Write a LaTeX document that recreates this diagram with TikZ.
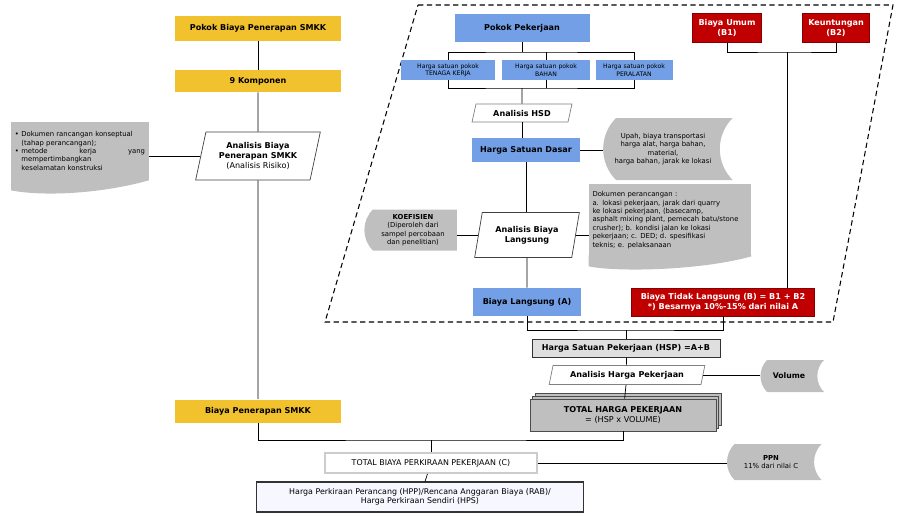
\documentclass[tikz,border=0pt]{standalone}
\usepackage{fontspec}
\setmainfont{DejaVu Sans}
\usetikzlibrary{shapes.geometric, shapes.misc, shadows}

\definecolor{smkkyellow}{HTML}{F2C12E}
\definecolor{hspblue}{HTML}{729FE6}
\definecolor{costred}{HTML}{C00000}
\definecolor{notegray}{HTML}{BFBFBF}

% wavy foot of a document note
\newcommand{\docwave}[1]{%
  \fill[notegray] ([yshift=0.6pt]#1.south west) -- ([yshift=-2mm]#1.south west)
    .. controls +(30,6) and +(-50,14) .. (#1.south east) -- ([yshift=0.6pt]#1.south east) -- cycle;}

\tikzset{
  box/.style={align=center, inner sep=1pt, font=\fontsize{4.6}{5.5}\selectfont\bfseries},
  lightfont/.style={font=\fontsize{4.5}{5.4}\selectfont},
  yellowbox/.style={box, fill=smkkyellow},
  bluebox/.style={box, fill=hspblue},
  smallblue/.style={bluebox, minimum height=4mm, font=\fontsize{3.5}{4.2}\selectfont},
  redbox/.style={box, fill=costred, text=white, draw=costred!70!black},
  iobox/.style={box, trapezium, trapezium left angle=75, trapezium right angle=105,
    trapezium stretches=true, draw=black!75, fill=white},
  docnote/.style={fill=notegray, inner sep=2pt, align=left, font=\fontsize{3.9}{4.8}\selectfont},
  tagnote/.style={fill=notegray, inner sep=1pt, align=center, font=\fontsize{3.9}{4.8}\selectfont,
    rounded rectangle, rounded rectangle left arc=convex,
    rounded rectangle right arc=concave, rounded rectangle arc length=90}
}

\begin{document}
\begin{tikzpicture}[x=0.2mm, y=-0.2mm]
  \useasboundingbox (0,0) rectangle (907,514);

  % frame of the direct/indirect cost part
  \draw[densely dashed, line width=0.6pt] (418,5) -- (893,5) -- (833,322) -- (325,322) -- cycle;

  % SMKK column
  \node[yellowbox, minimum width=33mm, minimum height=5mm] (pokok) at (258,28) {Pokok Biaya Penerapan SMKK};
  \node[yellowbox, minimum width=33mm, minimum height=4.4mm] (komp) at (258,81) {9 Komponen};
  \node[iobox, minimum width=25mm, minimum height=9.6mm] (anal) at (258,156)
    {Analisis Biaya\\Penerapan SMKK\\{\fontseries{m}\selectfont (Analisis Risiko)}};
  \node[docnote, text width=26mm, minimum height=11.6mm] (noteL) at (80,151)
    {\textbullet~Dokumen rancangan konseptual\\
     \hspace*{1.3mm}(tahap perancangan);\\
     \textbullet~metode \hfill kerja \hfill yang\\
     \hspace*{1.3mm}mempertimbangkan\\
     \hspace*{1.3mm}keselamatan konstruksi};
  \node[yellowbox, minimum width=33mm, minimum height=4.6mm] (bpen) at (258,411) {Biaya Penerapan SMKK};

  % work items
  \node[bluebox, minimum width=27mm, minimum height=5.6mm] (pokpek) at (522,28) {Pokok Pekerjaan};
  \node[smallblue, minimum width=18.8mm] (tenaga) at (448,70) {Harga satuan pokok\\TENAGA KERJA};
  \node[smallblue, minimum width=17.6mm] (bahan) at (546,70) {Harga satuan pokok\\BAHAN};
  \node[smallblue, minimum width=15.4mm] (alat) at (634,70) {Harga satuan pokok\\PERALATAN};
  \node[redbox, minimum width=13.8mm, minimum height=5.8mm] (umum) at (727,28) {Biaya Umum\\(B1)};
  \node[redbox, minimum width=13.4mm, minimum height=5.8mm] (untung) at (836,28) {Keuntungan\\(B2)};

  \node[iobox, draw=gray, minimum width=20mm, minimum height=3.6mm] (ahsd) at (522,113) {Analisis HSD};
  \node[bluebox, minimum width=21.6mm, minimum height=4.8mm] (hsd) at (526,150) {Harga Satuan Dasar};
  \node[tagnote, minimum width=26.6mm, minimum height=12.4mm] (notehsd) at (663,149)
    {Upah, biaya transportasi\\harga alat, harga bahan,\\material,\\harga bahan, jarak ke lokasi};

  \node[iobox, minimum width=21mm, minimum height=9mm] (abl) at (527,235) {Analisis Biaya\\Langsung};
  \node[tagnote, rounded rectangle right arc=none, minimum width=19.2mm, minimum height=8.2mm] (koef) at (413,230)
    {\textbf{KOEFISIEN}\\(Diperoleh dari\\sampel percobaan\\dan penelitian)};
  \node[docnote, text width=31mm, minimum height=14.4mm] (notebl) at (670,220)
    {Dokumen perancangan :\\
     a. lokasi pekerjaan, jarak dari quarry\\
     ke lokasi pekerjaan, (basecamp,\\
     asphalt mixing plant, pemecah batu/stone\\
     crusher); b. kondisi jalan ke lokasi\\
     pekerjaan; c. DED; d. spesifikasi\\
     teknis; e. pelaksanaan};

  \node[bluebox, minimum width=21.6mm, minimum height=5.6mm] (bl) at (527,302) {Biaya Langsung (A)};
  \node[redbox, minimum width=36.6mm, minimum height=5.6mm] (btl) at (723,302)
    {Biaya Tidak Langsung (B) = B1 + B2\\*) Besarnya 10\%-15\% dari nilai A};

  % unit price and totals
  \node[box, fill=gray!25, draw=black!80, minimum width=37.6mm, minimum height=3.6mm] (hsp) at (626,348)
    {Harga Satuan Pekerjaan (HSP) =A+B};
  \node[iobox, draw=gray, minimum width=31.2mm, minimum height=3.8mm] (ahp) at (627,375) {Analisis Harga Pekerjaan};
  \node[tagnote, minimum width=13.4mm, minimum height=6.4mm, font=\fontsize{4.4}{5.2}\selectfont\bfseries] (vol) at (789,376) {Volume};
  \node[box, fill=notegray, draw=gray!60!black,
        double copy shadow={shadow xshift=1.5pt, shadow yshift=1.5pt},
        minimum width=37.2mm, minimum height=6.4mm] (thp) at (623,415)
    {TOTAL HARGA PEKERJAAN\\{\fontseries{m}\selectfont = (HSP x VOLUME)}};
  \node[box, lightfont, draw=gray!40, line width=1pt, fill=white,
        minimum width=42.4mm, minimum height=4mm] (tbp) at (431,463) {TOTAL BIAYA PERKIRAAN PEKERJAAN (C)};
  \node[tagnote, minimum width=19.6mm, minimum height=7.2mm] (ppn) at (771,462) {\textbf{PPN}\\11\% dari nilai C};
  \node[box, lightfont, draw=black!80, line width=0.6pt, fill=blue!3,
        minimum width=65.4mm, minimum height=6mm] (hps) at (420,497)
    {Harga Perkiraan Perancang (HPP)/Rencana Anggaran Biaya (RAB)/\\Harga Perkiraan Sendiri (HPS)};

  \docwave{noteL}
  \docwave{notebl}

  % junctions
  \coordinate (pj) at (522,52);
  \coordinate (hj) at (522,88);
  \coordinate (bj) at (787,52);
  \coordinate (sj) at (626,330);
  \coordinate (cj) at (431,440);

  % connectors
  \draw (pokok) -- (komp);
  \draw (komp) -- (anal);
  \draw (anal) -- (bpen);
  \draw (anal.west) -- (anal.west -| noteL.east);
  \draw (bpen.south) |- (cj) -| (thp.south);
  \draw (cj) -- (tbp);
  \draw (tbp) -- (hps);
  \draw (tbp.east) -- (tbp.east -| ppn.west);

  \draw (pokpek) -- (pj);
  \draw (tenaga.north) |- (pj) -| (alat.north);
  \draw (bahan.north) -- (bahan.north |- pj);
  \draw (tenaga.south) |- (hj) -| (alat.south);
  \draw (bahan.south) -- (bahan.south |- hj);
  \draw (hj) -- (ahsd);
  \draw (ahsd.south) -- (ahsd.south |- hsd.north);
  \draw (hsd.east) -- (hsd.east -| notehsd.west);
  \draw (hsd.south) -- (hsd.south |- abl.north);
  \draw (abl.west) -- (abl.west -| koef.east);
  \draw (abl.east) -- (abl.east -| notebl.west);
  \draw (abl) -- (bl);
  \draw (umum.south) |- (bj) -| (untung.south);
  \draw (bj) -- (bj |- btl.north);
  \draw (bl.south) |- (sj) -| (btl.south);
  \draw (sj) -- (hsp);
  \draw (hsp) -- (ahp);
  \draw (ahp.east) -- (ahp.east -| vol.west);
  \draw (ahp) -- (thp);
\end{tikzpicture}
\end{document}
